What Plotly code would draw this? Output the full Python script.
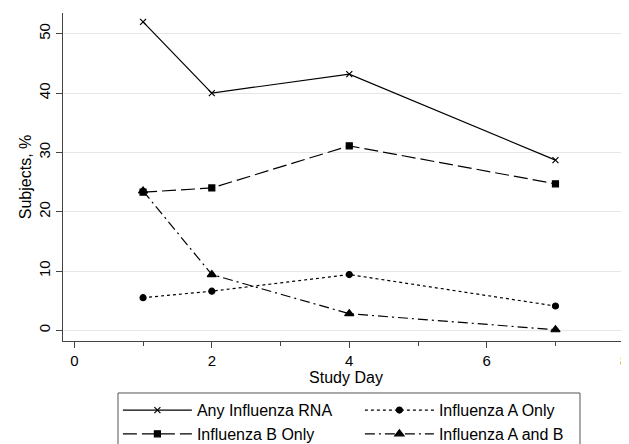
import plotly.graph_objects as go

days = [1, 2, 4, 7]
any_rna = [52.0, 40.0, 43.2, 28.7]
flu_a_only = [5.5, 6.6, 9.4, 4.1]
flu_b_only = [23.3, 24.0, 31.1, 24.7]
flu_a_and_b = [23.5, 9.4, 2.8, 0.1]

series_names = ["Any Influenza RNA", "Influenza A Only", "Influenza B Only", "Influenza A and B"]
x_ticks = [0, 2, 4, 6, 8]
y_ticks = [0, 10, 20, 30, 40, 50]

styles = [
    (any_rna, "solid", "x-thin", 6),
    (flu_a_only, "3px,3px", "circle", 6),
    (flu_b_only, "14px,5px", "square", 6),
    (flu_a_and_b, "10px,4px,2px,4px", "triangle-up", 8),
]

fig = go.Figure()
for name, (vals, dash, sym, size) in zip(series_names, styles):
    fig.add_trace(go.Scatter(
        x=days, y=vals, name=name, mode="lines+markers",
        line=dict(color="black", width=1.2, dash=dash),
        marker=dict(symbol=sym, size=size, color="black",
                    line=dict(color="black", width=1.2)),
    ))

# legend frame
fig.add_shape(type="rect", xref="paper", yref="paper",
              x0=0.0972, x1=0.9134, y0=-0.1585, y1=-0.325,
              line=dict(color="#555", width=1), fillcolor="rgba(0,0,0,0)")

# page body has an 8px margin: figure is sized/offset to compensate
fig.update_layout(
    width=621, height=436,
    margin=dict(l=55, r=0, t=5, b=103, autoexpand=False),
    paper_bgcolor="white", plot_bgcolor="white",
    font=dict(family="Liberation Sans, Arial, sans-serif", size=16, color="black"),
    showlegend=True,
    legend=dict(
        orientation="h", x=0.097, xanchor="left", y=-0.159, yanchor="top",
        entrywidth=158, entrywidthmode="pixels",
        borderwidth=0, bgcolor="rgba(0,0,0,0)", font=dict(size=16),
        itemwidth=69,
    ),
    xaxis=dict(
        range=[-0.165, 8.07], tickvals=x_ticks, showgrid=False, zeroline=False,
        showline=True, linecolor="#444", linewidth=1,
        ticks="outside", ticklen=6, tickcolor="#444",
        tickfont=dict(size=15), ticklabeloverflow="allow",
        minor=dict(ticks="outside", ticklen=4, tickvals=[1, 3, 5, 7], tickcolor="#444"),
        title=dict(text="Study Day", standoff=0, font=dict(size=16)),
    ),
    yaxis=dict(
        range=[-1.8, 53.5], tickvals=y_ticks, tickangle=-90,
        showgrid=True, gridcolor="#e6e6e6", gridwidth=1, zeroline=False,
        showline=True, linecolor="#444", linewidth=1,
        ticks="outside", ticklen=6, tickcolor="#444",
        tickfont=dict(size=15), ticklabelstandoff=0,
        title=dict(text="Subjects, %", standoff=0, font=dict(size=16)),
    ),
)

fig.write_html("out.html")
